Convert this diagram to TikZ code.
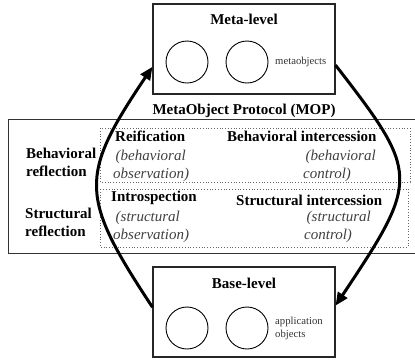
\documentclass[tikz,border=0pt]{standalone}
\usepackage{fontspec}
\setmainfont{Liberation Serif}
\usetikzlibrary{arrows.meta}
\begin{document}
\begin{tikzpicture}[x=1pt,y=-1pt,
  lvl/.style={draw=black!85,line width=1.1pt,minimum width=182pt,minimum height=90pt,inner sep=0pt},
  obj/.style={draw=black,line width=0.9pt,circle,minimum size=42pt,inner sep=0pt},
  ttl/.style={font=\fontsize{15}{18}\selectfont\bfseries,inner sep=0pt},
  hd/.style={font=\fontsize{15}{18}\selectfont\bfseries,inner sep=0pt,anchor=west,align=left},
  itx/.style={font=\fontsize{15}{18}\selectfont\itshape,text=black!75,inner sep=0pt,anchor=west,align=left},
  sm/.style={font=\fontsize{10.7}{13}\selectfont,text=black!80,inner sep=0pt,anchor=west,align=left},
  grp/.style={draw=black!60,dotted,line width=0.8pt},
  frame/.style={draw=black!80,line width=1pt},
  flow/.style={line width=3pt,-{Triangle[length=13pt,width=11pt]}}]
\useasboundingbox (0,0) rectangle (415,360);
% meta-level
\node[lvl] (meta) at (244,49) {};
\node[ttl] (metat) at (244,19) {Meta-level};
\node[obj] (m1) at (187,62) {};
\node[obj] (m2) at (247,62) {};
\node[sm] (mo) at (275,62) {metaobjects};
% MOP
\node[ttl] (mop) at (244,111) {MetaObject Protocol (MOP)};
\draw[frame] (418,119) -- (8,119) -- (8,253) -- (418,253);
\draw[grp] (100,128) rectangle (410,182);
\draw[grp] (100,189) rectangle (408,247);
\node[hd] (br) at (26,162) {Behavioral\\reflection};
\node[hd] (sr) at (25,222) {Structural\\reflection};
\node[hd] (rei) at (115,136) {Reification};
\node[itx] (bo) at (113,166) {\,(behavioral\\observation)};
\node[hd] (bi) at (227,136) {Behavioral intercession};
\node[itx] (bc) at (303,166) {\,(behavioral\\control)};
\node[hd] (intro) at (111,198) {Introspection};
\node[itx] (so) at (113,227) {\,(structural\\observation)};
\node[hd] (si) at (236,200) {Structural intercession};
\node[itx] (sc) at (304,227) {\,(structural\\control)};
% base-level
\node[lvl] (base) at (244,312) {};
\node[ttl] (baset) at (244,283) {Base-level};
\node[obj] (b1) at (187,328) {};
\node[obj] (b2) at (247,328) {};
\node[sm] (ao) at (275,328) {application\\objects};
% arrows
\draw[flow] (base.177) .. controls (79,196) and (79,176) .. (meta.191);
\draw[flow] (meta.350) .. controls (420,174) and (420,179) .. (base.4);
\end{tikzpicture}
\end{document}
